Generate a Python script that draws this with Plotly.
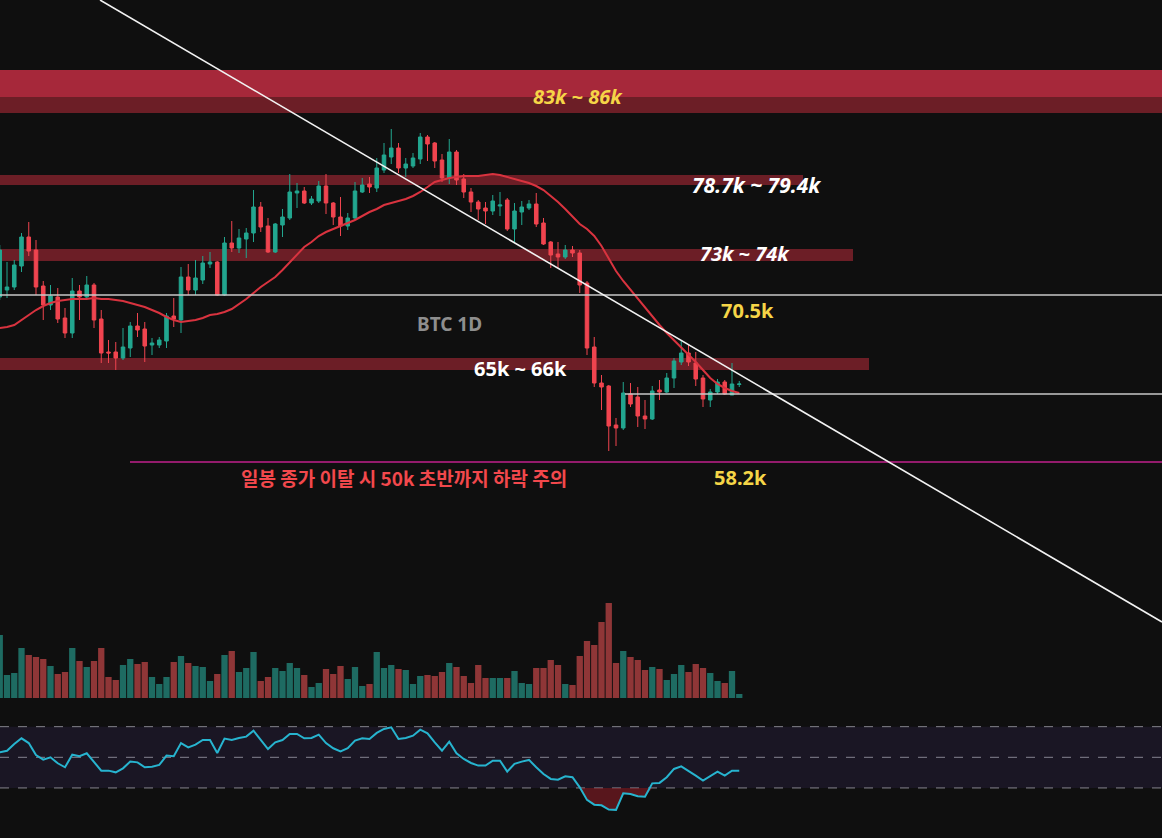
import plotly.graph_objects as go

# ---------------- data ----------------
days = list(range(103))

opens = [70350, 70875, 71100, 72675, 74850, 73875, 71175, 69750, 70350, 68775,
         67650, 70800, 70350, 71250, 68700, 66225, 66225, 65775, 66525, 68175,
         67950, 66750, 66750, 67050, 68925, 68625, 71850, 70875, 71625, 72825,
         72975, 70500, 74400, 74025, 74700, 75150, 77100, 75675, 73725, 75750,
         76275, 78150, 78300, 77400, 77550, 78675, 77400, 76350, 75675, 76275,
         78225, 78825, 78525, 79875, 80850, 81525, 80025, 80175, 80700, 82350,
         81900, 80625, 79275, 81225, 79200, 78225, 77475, 77025, 76800, 77175,
         77625, 75450, 76725, 77025, 77325, 75900, 74475, 73575, 73350, 73875,
         73650, 71400, 66600, 63900, 63675, 60750, 60525, 63075, 62850, 61425,
         61200, 63375, 63225, 64275, 65475, 66150, 65400, 64275, 62625, 63225,
         63975, 63000, 63790]

highs = [74250, 72975, 73125, 75150, 75975, 74625, 71550, 71250, 71025, 69525,
         71775, 71250, 71925, 71400, 69375, 67125, 66975, 68025, 68475, 69150,
         68475, 67275, 67350, 69150, 70275, 72600, 72825, 73125, 73425, 73725,
         73050, 74850, 76050, 75450, 75525, 78375, 77475, 76275, 75900, 76950,
         79575, 78900, 78600, 77925, 79050, 79575, 77475, 77850, 76650, 78975,
         79275, 79350, 80775, 81900, 82950, 81900, 80775, 81150, 82650, 82500,
         81975, 81075, 82200, 81375, 79575, 78525, 77625, 77475, 78000, 78225,
         77775, 77400, 77550, 77625, 78150, 76275, 74550, 74475, 74250, 74175,
         73875, 71550, 67350, 64500, 63750, 61275, 63975, 63900, 63600, 62625,
         63675, 64125, 64650, 65775, 67125, 66825, 66225, 64500, 63450, 64200,
         64125, 65400, 64050]

lows = [70125, 70275, 70875, 72225, 73425, 70500, 68625, 69375, 68400, 67275,
        67275, 68625, 70275, 68025, 65400, 65400, 64875, 65625, 65850, 67350,
        65475, 66000, 66525, 66525, 68100, 67650, 70500, 70500, 71325, 72525,
        70425, 70425, 73725, 73650, 73275, 74475, 75225, 73650, 73650, 74850,
        76125, 77025, 77325, 77250, 77400, 76575, 75750, 74925, 75375, 76125,
        78150, 78150, 78225, 79650, 80325, 79650, 79350, 80025, 80325, 80550,
        80025, 78975, 78825, 78750, 77775, 76725, 76125, 75825, 76500, 76425,
        75300, 74400, 75750, 76875, 75600, 74250, 72525, 72525, 73200, 73350,
        70650, 66000, 63600, 61875, 58800, 59175, 60375, 62100, 60600, 60450,
        61125, 62625, 63150, 63525, 65250, 65175, 63675, 62100, 62100, 63075,
        63000, 63000, 63600]

closes = [73875, 71100, 72750, 74850, 73800, 71100, 69750, 70425, 68700, 67650,
          70800, 70350, 71250, 68625, 66150, 66150, 65775, 66600, 68175, 67875,
          66675, 66900, 67125, 68925, 68700, 71850, 70875, 71775, 72900, 72975,
          70500, 74400, 74025, 74775, 75150, 77100, 75600, 73725, 75825, 76350,
          78225, 78300, 77400, 77700, 78675, 77400, 76350, 75675, 76275, 78300,
          78750, 78600, 80025, 81000, 81525, 80025, 80325, 80775, 82350, 81825,
          80550, 79275, 81225, 79125, 78225, 77475, 76950, 76800, 77550, 77250,
          75450, 76800, 77100, 77325, 75825, 74325, 73500, 73350, 73875, 73650,
          71250, 66525, 63900, 63600, 60675, 60525, 63150, 62325, 61425, 61200,
          63300, 63225, 64275, 65550, 66150, 65475, 64200, 62700, 63225, 63975,
          63075, 63825, 63825]

ma20 = [68025, 68100, 68250, 68625, 69000, 69375, 69675, 69900, 70050, 70125,
        70200, 70200, 70200, 70275, 70200, 70200, 70125, 70050, 69900, 69750,
        69600, 69375, 69150, 68850, 68625, 68475, 68550, 68625, 68775, 69000,
        69075, 69225, 69450, 69825, 70200, 70650, 71100, 71475, 71850, 72375,
        72975, 73500, 74100, 74475, 74925, 75225, 75450, 75675, 75900, 76125,
        76425, 76725, 76950, 77250, 77400, 77550, 77700, 77925, 78225, 78600,
        78975, 79125, 79275, 79350, 79425, 79425, 79425, 79500, 79575, 79500,
        79350, 79200, 79050, 78900, 78675, 78375, 77925, 77475, 76950, 76425,
        75825, 75450, 74925, 74175, 73200, 72300, 71550, 70875, 70275, 69600,
        68925, 68250, 67650, 67125, 66600, 66075, 65475, 64875, 64275, 63825,
        63525, 63300, 63150]

volume_k = [31.5, 11.5, 12.5, 25, 21.5, 20.5, 19.5, 16, 12, 13,
            25, 18.5, 15.5, 18.5, 25, 10.5, 9, 16.5, 19.5, 17,
            18, 10.5, 7, 10.5, 18, 21, 17.5, 16, 15.5, 8.5,
            12, 21.5, 23.5, 13, 15, 23, 8.5, 10.5, 15, 13.5,
            17.5, 15, 11.5, 5.5, 7.5, 14.5, 12, 16, 9.5, 15.5,
            6, 7, 23, 15, 16.5, 14.5, 14, 7, 11, 11.5,
            11, 13, 17.5, 15.5, 11, 7.5, 16.5, 10, 10, 10,
            10, 13.5, 7.5, 7, 15, 15, 19, 16.5, 7, 6.5,
            21, 28.5, 26.5, 38, 47.5, 17.5, 23.5, 20.5, 19, 14,
            15.5, 14.5, 9, 12, 16.5, 13, 17, 15, 12.5, 8.5,
            7.5, 13.5, 2]

rsi14 = [53.3, 54.3, 58.7, 62.4, 59.3, 51.5, 48.5, 50.0, 46.1, 43.5,
         51.7, 50.7, 52.6, 46.7, 41.3, 41.3, 40.2, 42.8, 47.2, 46.7,
         43.5, 43.9, 45.0, 51.1, 50.7, 59.3, 56.5, 58.3, 61.3, 61.3,
         52.8, 62.2, 61.3, 62.6, 63.5, 67.4, 61.5, 55.4, 59.8, 61.3,
         65.2, 65.2, 62.4, 62.6, 64.8, 59.3, 55.9, 53.9, 55.9, 60.9,
         62.4, 62.0, 65.9, 68.5, 69.6, 62.0, 62.6, 64.1, 68.0, 65.7,
         59.8, 54.3, 60.2, 52.6, 48.9, 46.3, 44.6, 44.6, 47.8, 47.8,
         40.7, 45.7, 47.2, 48.3, 43.5, 39.1, 35.9, 35.4, 37.6, 37.0,
         30.4, 22.2, 19.1, 18.7, 15.9, 15.7, 26.5, 26.1, 24.6, 24.3,
         33.0, 33.3, 37.0, 42.4, 44.1, 41.3, 38.0, 34.8, 37.6, 40.7,
         38.0, 41.3, 41.3]

# drawn levels / zones (price)
zone_83_86_upper = [85350, 87375]
zone_83_86_lower = [84150, 85350]
zone_787_794 = [78750, 79500]
zone_73_74 = [73050, 73950]
zone_65_66 = [64875, 65775]
level_705 = 70500
level_631 = 63075
level_582 = 57975
trend_days = [13.83, 160.31]
trend_prices = [92625, 45975]
rsi_levels = [70, 50, 30]

# ---------------- colours ----------------
BG = "#0f0f0f"
UP = "#22a68f"
DOWN = "#f0444f"
VOL_UP = "#1e6b62"
VOL_DOWN = "#8f3637"
ZONE = "#6c1e26"
ZONE_BRIGHT = "#a6283a"

fig = go.Figure()

# volume
vol_colors = [VOL_UP if c >= o else VOL_DOWN for o, c in zip(opens, closes)]
fig.add_trace(go.Bar(x=days, y=volume_k, marker=dict(color=vol_colors, line=dict(width=0)),
                     yaxis="y2", hoverinfo="skip", showlegend=False))

# RSI oversold fill + line
rsi_clip = [min(v, 30) for v in rsi14]
fig.add_trace(go.Scatter(x=days, y=[30] * len(days), mode="lines", line=dict(width=0),
                         yaxis="y3", hoverinfo="skip", showlegend=False))
fig.add_trace(go.Scatter(x=days, y=rsi_clip, mode="lines", line=dict(width=0),
                         fill="tonexty", fillcolor="rgba(150,30,40,0.55)",
                         yaxis="y3", hoverinfo="skip", showlegend=False))
fig.add_trace(go.Scatter(x=days, y=rsi14, mode="lines", line=dict(color="#27b4cf", width=2),
                         yaxis="y3", hoverinfo="skip", showlegend=False))

# candles
fig.add_trace(go.Candlestick(
    x=days, open=opens, high=highs, low=lows, close=closes,
    increasing=dict(line=dict(color=UP, width=1), fillcolor=UP),
    decreasing=dict(line=dict(color=DOWN, width=1), fillcolor=DOWN),
    whiskerwidth=0, hoverinfo="skip", showlegend=False))

# MA
fig.add_trace(go.Scatter(x=days, y=ma20, mode="lines", line=dict(color="#d9333f", width=2),
                         hoverinfo="skip", showlegend=False))

shapes = []
def zone(y01, x1, color):
    shapes.append(dict(type="rect", xref="paper", yref="y", x0=0, x1=x1,
                       y0=y01[0], y1=y01[1], fillcolor=color, line=dict(width=0), layer="below"))

zone(zone_83_86_lower, 1, ZONE)
zone(zone_83_86_upper, 1, ZONE_BRIGHT)
zone(zone_787_794, 803 / 1162, ZONE)
zone(zone_73_74, 853 / 1162, ZONE)
zone(zone_65_66, 869 / 1162, ZONE)

# RSI band
shapes.append(dict(type="rect", xref="paper", yref="y3", x0=0, x1=1, y0=30, y1=70,
                   fillcolor="#1a1624", line=dict(width=0), layer="below"))
for lv in rsi_levels:
    shapes.append(dict(type="line", xref="paper", yref="y3", x0=0, x1=1, y0=lv, y1=lv,
                       line=dict(color="rgba(170,170,180,0.75)", width=1, dash="dash"), layer="below"))

# horizontal levels
shapes.append(dict(type="line", xref="paper", yref="y", x0=0, x1=1, y0=level_705, y1=level_705,
                   line=dict(color="#c9c9c9", width=1.5), layer="above"))
shapes.append(dict(type="line", xref="paper", yref="y", x0=625 / 1162, x1=1, y0=level_631, y1=level_631,
                   line=dict(color="#c9c9c9", width=1.5), layer="above"))
shapes.append(dict(type="line", xref="paper", yref="y", x0=130 / 1162, x1=1, y0=level_582, y1=level_582,
                   line=dict(color="#c2208c", width=1.5), layer="above"))
# trend line
shapes.append(dict(type="line", xref="x", yref="y", x0=trend_days[0], x1=trend_days[1],
                   y0=trend_prices[0], y1=trend_prices[1],
                   line=dict(color="#f2f2f2", width=1.6), layer="above"))

W, H = 1162, 838
def ann(text, px, py, color, size=20, family="Noto Sans"):
    return dict(text=text, x=px / W, y=1 - py / H, xref="paper", yref="paper",
                showarrow=False, xanchor="center", yanchor="middle",
                font=dict(color=color, size=size, family=family))

YEL = "#f5d547"
annotations = [
    ann("<b><i>83k ~ 86k</i></b>", 578, 96, YEL),
    ann("<b><i>78.7k ~ 79.4k</i></b>", 756, 185, "#ffffff", 21),
    ann("<b><i>73k ~ 74k</i></b>", 745, 254, "#ffffff"),
    ann("<b>70.5k</b>", 747, 310, YEL),
    ann("<b>BTC 1D</b>", 449, 324, "#8e8e8e", 19),
    ann("<b>65k ~ 66k</b>", 520, 368, "#ffffff"),
    ann("<b>58.2k</b>", 740, 477, YEL),
    ann("<b>일봉 종가 이탈 시 50k 초반까지 하락 주의</b>", 404, 477, "#f2484c", 19, "Noto Sans CJK KR"),
]

fig.update_layout(
    width=W, height=H, margin=dict(l=0, r=0, t=0, b=0),
    paper_bgcolor=BG, plot_bgcolor=BG,
    showlegend=False, hovermode=False, bargap=0.13,
    shapes=shapes, annotations=annotations,
    xaxis=dict(range=[0.0345, 160.31], visible=False, rangeslider=dict(visible=False),
               fixedrange=True),
    yaxis=dict(range=[29775, 92625], visible=False, domain=[0, 1], fixedrange=True),
    yaxis2=dict(range=[-70, 349], visible=False, overlaying="y", fixedrange=True),
    yaxis3=dict(range=[-2.66, 544.2], visible=False, overlaying="y", fixedrange=True),
)

fig.write_html("out.html", config={"displayModeBar": False})
